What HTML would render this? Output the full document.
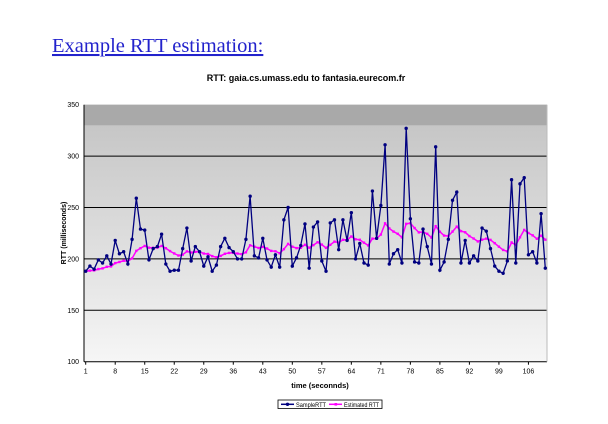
<!DOCTYPE html>
<html><head><meta charset="utf-8"><style>
body{margin:0;width:608px;height:419px;background:#fff;overflow:hidden;font-family:"Liberation Sans",sans-serif}
</style></head><body>
<svg width="608" height="419" xmlns="http://www.w3.org/2000/svg">
<defs><linearGradient id="g" x1="0" y1="0" x2="0" y2="1"><stop offset="0" stop-color="#c2c2c2"/><stop offset="1" stop-color="#f6f6f6"/></linearGradient></defs>
<text x="52" y="52" font-family="Liberation Serif, serif" font-size="20.5" fill="#2222cc" text-decoration="underline">Example RTT estimation:</text>
<text x="306" y="81" text-anchor="middle" font-size="9" font-weight="bold">RTT: gaia.cs.umass.edu to fantasia.eurecom.fr</text>
<g id="plot"></g>
<text transform="translate(66,233) rotate(-90)" text-anchor="middle" font-size="7" font-weight="bold">RTT  (milliseconds)</text>
<text x="320" y="388" text-anchor="middle" font-size="7.5" font-weight="bold">time (seconnds)</text>
<g>
<rect x="278" y="400" width="104" height="8.5" fill="#fff" stroke="#000" stroke-width="0.8"/>
<line x1="281" y1="404.3" x2="294" y2="404.3" stroke="#000080" stroke-width="1.5"/><circle cx="287.5" cy="404.3" r="1.7" fill="#000080"/>
<text x="296" y="407" font-size="6" textLength="30" lengthAdjust="spacingAndGlyphs">SampleRTT</text>
<line x1="329" y1="404.3" x2="342" y2="404.3" stroke="#ff00ff" stroke-width="1.5"/><rect x="334.5" y="403" width="2.6" height="2.6" fill="#ff00ff"/>
<text x="344" y="407" font-size="6" textLength="35" lengthAdjust="spacingAndGlyphs">Estimated RTT</text>
</g>
</svg>
<script>
const sampleRTT=[188,193,190,199,196,203,195,218,205,207,195,219,259,229,228,199,210,212,224,195,188,189,189,210,230,198,212,207,193,202,188,194,212,220,211,207,200,200,219,261,203,201,220,199,192,204,192,238,250,193,201,213,234,191,231,236,198,188,235,238,209,238,218,245,200,215,196,194,266,220,252,311,195,205,209,196,327,239,197,196,229,212,195,309,189,197,219,257,265,196,218,196,203,198,230,227,210,193,188,186,198,277,196,273,279,204,207,196,244,191];
const estimatedRTT=[188,188.6,188.8,190.1,190.8,192.3,192.7,195.9,197.0,198.2,197.8,200.5,207.8,210.4,212.6,210.9,210.8,211.0,212.6,210.4,207.6,205.3,203.3,204.1,207.3,206.2,206.9,206.9,205.2,204.8,202.7,201.6,202.9,205.0,205.8,205.9,205.2,204.6,206.4,213.2,211.9,210.6,211.7,210.1,207.8,207.4,205.5,209.5,214.6,211.9,210.5,210.8,213.7,210.9,213.4,216.2,213.9,210.7,213.7,216.8,215.8,218.6,218.5,221.8,219.1,218.6,215.8,213.1,219.7,219.7,223.7,234.6,229.7,226.6,224.4,220.9,234.1,234.7,230.0,225.8,226.2,224.4,220.7,231.8,226.4,222.7,222.3,226.6,231.4,227.0,225.9,222.2,219.8,217.0,218.7,219.7,218.5,215.3,211.9,208.7,207.3,216.0,213.5,221.0,228.2,225.2,222.9,219.6,222.6,218.7];
const yTicks=[100,150,200,250,300,350];
const xTickLabels=[1,8,15,22,29,36,43,50,57,64,71,78,85,92,99,106];
const NS='http://www.w3.org/2000/svg';
const L=84,R=547,T=104.7,B=361.7;
const y=v=>B-(v-100)*(B-T)/250;
const x=i=>85.7+(i-1)*(545.3-85.7)/(sampleRTT.length-1);
const g=document.getElementById('plot');
function mk(t,a){const e=document.createElementNS(NS,t);for(const k in a)e.setAttribute(k,a[k]);g.appendChild(e);return e;}
let e=mk('rect',{x:L,y:T,width:R-L,height:B-T,fill:'url(#g)'});


e=mk('rect',{x:L,y:T,width:R-L,height:y(330)-T,fill:'#a9a9a9'});


yTicks.forEach(v=>{
 if(v>100&&v<350){const l=mk('line',{x1:L,x2:R,y1:y(v),y2:y(v),stroke:'#000','stroke-width':1});
 
 }
 const t=mk('text',{x:L-5,y:y(v)+2.5,'text-anchor':'end','font-size':7});t.textContent=v;
 
 
});
mk('line',{x1:L,x2:L,y1:T,y2:B,stroke:'#000','stroke-width':1});
mk('line',{x1:L,x2:R,y1:B,y2:B,stroke:'#000','stroke-width':1});
mk('line',{x1:R,x2:R,y1:T,y2:B,stroke:'#bbb','stroke-width':1});
xTickLabels.forEach(c=>{
 mk('line',{x1:x(c),x2:x(c),y1:B,y2:B+3,stroke:'#000'});
 const t=mk('text',{x:x(c),y:B+12,'text-anchor':'middle','font-size':7});t.textContent=c;
 
 
});
function pts(a){return a.map((v,i)=>x(i+1).toFixed(1)+','+y(v).toFixed(1)).join(' ');}
e=mk('polyline',{points:pts(estimatedRTT),fill:'none',stroke:'#ff00ff','stroke-width':1.5});


estimatedRTT.forEach((v,i)=>{const m=mk('rect',{x:x(i+1)-1.2,y:y(v)-1.2,width:2.4,height:2.4,fill:'#ff00ff'});
 
 });
e=mk('polyline',{points:pts(sampleRTT),fill:'none',stroke:'#000080','stroke-width':1.3});


sampleRTT.forEach((v,i)=>{const m=mk('circle',{cx:x(i+1),cy:y(v),r:1.7,fill:'#000080'});
 
 });
</script>
</body></html>
